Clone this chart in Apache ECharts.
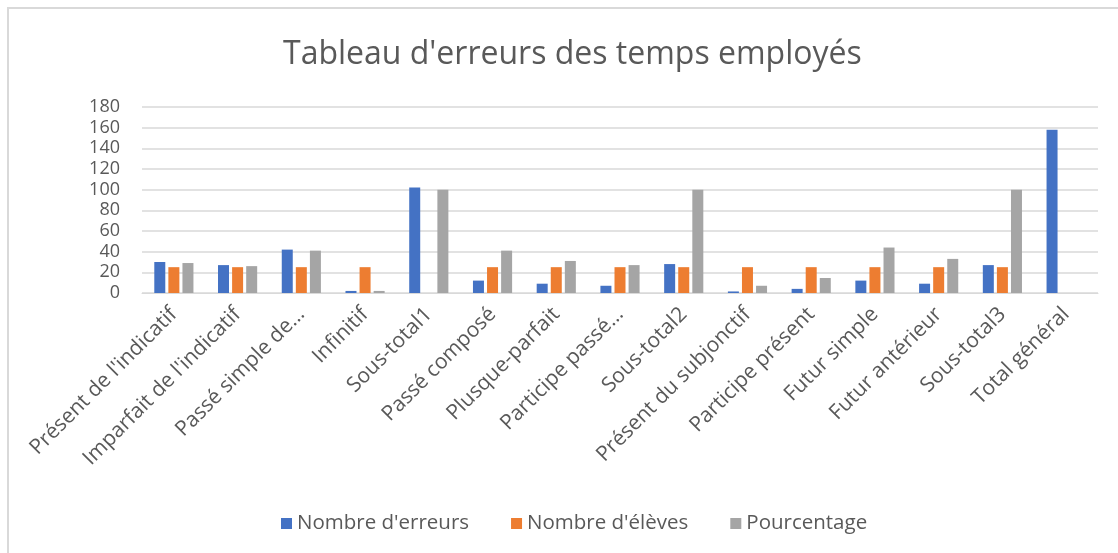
<!DOCTYPE html>
<html>
<head>
<meta charset="utf-8">
<script src="https://cdn.jsdelivr.net/npm/echarts@6/dist/echarts.min.js"></script>
<style>
    html, body { margin: 0; padding: 0; background: #fff; }
    #frame {
        position: absolute; left: 7px; top: 7px; right: -10px; bottom: -10px;
        border-top: 2px solid #d9d9d9;
        border-left: 2px solid #d9d9d9;
    }
    #chart { position: absolute; left: 0; top: 0; width: 1118px; height: 553px; }
</style>
</head>
<body>
<div id="frame"></div>
<div id="chart"></div>
<script>
// Categories (as shown, truncated labels kept)
const categories = [
    "Présent de l'indicatif", "Imparfait de l'indicatif", 'Passé simple de…', 'Infinitif',
    'Sous-total1', 'Passé composé', 'Plusque-parfait', 'Participe passé…', 'Sous-total2',
    'Présent du subjonctif', 'Participe présent', 'Futur simple', 'Futur antérieur',
    'Sous-total3', 'Total général'
];
const nbErreurs = [30, 27, 42, 2, 102, 12, 9, 7, 28, 1.5, 4, 12, 9, 27, 158];
const nbEleves = [25, 25, 25, 25, null, 25, 25, 25, 25, 25, 25, 25, 25, 25, null];
const pourcentage = [29, 26, 41, 2, 100, 41, 31, 27, 100, 7, 14.5, 44, 33, 100, null];
const yTicks = [0, 20, 40, 60, 80, 100, 120, 140, 160, 180];

const textColor = '#595959';
const font = '"Open Sans", sans-serif';

const chart = echarts.init(document.getElementById('chart'));

function barSeries(name, data, color) {
    return {
        name: name,
        type: 'bar',
        data: data,
        barWidth: 11,
        barGap: '28%',
        itemStyle: { color: color },
        emphasis: { disabled: true }
    };
}

chart.setOption({
    animation: false,
    title: {
        text: 'Tableau d\'erreurs des temps employés',
        left: 278,
        top: 34,
        textStyle: { fontFamily: font, fontSize: 32, fontWeight: 'normal', color: textColor }
    },
    legend: {
        data: ["Nombre d'erreurs", "Nombre d'élèves", 'Pourcentage'],
        top: 508,
        left: 276,
        icon: 'rect',
        itemWidth: 11,
        itemHeight: 11,
        itemGap: 42,
        textStyle: { fontFamily: font, fontSize: 20.5, color: textColor }
    },
    grid: { left: 142, right: 20, top: 107, bottom: 260 },
    xAxis: {
        type: 'category',
        data: categories,
        axisTick: { show: false },
        axisLine: { lineStyle: { color: '#d9d9d9', width: 1 } },
        axisLabel: {
            rotate: 45,
            interval: 0,
            margin: 18,
            fontFamily: font,
            fontSize: 21,
            color: textColor
        }
    },
    yAxis: {
        type: 'value',
        min: yTicks[0],
        max: yTicks[yTicks.length - 1],
        interval: 20,
        axisLine: { show: false },
        axisTick: { show: false },
        axisLabel: { margin: 22, fontFamily: font, fontSize: 18, color: textColor },
        splitLine: { lineStyle: { color: '#d9d9d9', width: 1.5 } }
    },
    series: [
        barSeries("Nombre d'erreurs", nbErreurs, '#4472C4'),
        barSeries("Nombre d'élèves", nbEleves, '#ED7D31'),
        barSeries('Pourcentage', pourcentage, '#A5A5A5')
    ]
});
</script>
</body>
</html>
